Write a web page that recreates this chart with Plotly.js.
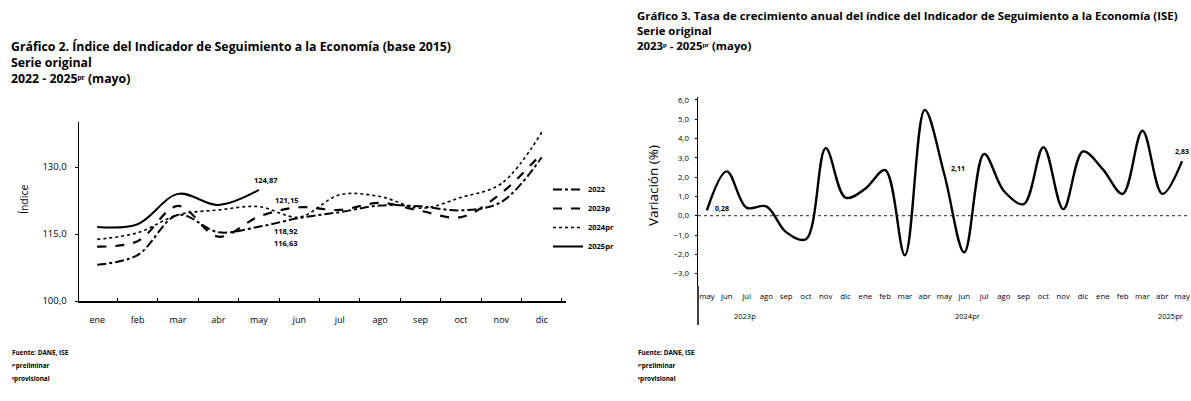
<!DOCTYPE html>
<html>
<head>
<meta charset="utf-8">
<script src="https://cdn.plot.ly/plotly-3.0.1.min.js"></script>
<style>html,body{margin:0;padding:0;background:#fff;}#chart{width:1191px;height:401px;}</style>
</head>
<body>
<div id="chart"></div>
<script>
// ---------- Data: Gráfico 2 ----------
const months = ['ene','feb','mar','abr','may','jun','jul','ago','sep','oct','nov','dic'];
const seriesNames = ['2022','2023p','2024pr','2025pr'];
const ise2022   = [108.1, 110.3, 119.3, 115.4, 116.63, 118.6, 119.9, 121.4, 121.2, 120.3, 122.2, 132.2];
const ise2023p  = [112.2, 113.4, 121.3, 114.4, 118.92, 121.0, 120.4, 122.0, 120.2, 118.8, 124.2, 133.1];
const ise2024pr = [113.8, 115.3, 119.3, 120.4, 121.15, 118.8, 123.8, 123.4, 120.8, 123.2, 126.3, 137.8];
const ise2025pr = [116.6, 117.2, 124.0, 121.5, 124.87];

// ---------- Data: Gráfico 3 ----------
const growthMonths = ['may','jun','jul','ago','sep','oct','nov','dic','ene','feb','mar','abr',
                      'may','jun','jul','ago','sep','oct','nov','dic','ene','feb','mar','abr','may'];
const growthValues = [0.28, 2.30, 0.42, 0.48, -0.85, -1.22, 3.50, 0.94, 1.40, 2.36, -2.05, 5.48,
                      2.11, -1.90, 3.20, 1.28, 0.60, 3.55, 0.34, 3.33, 2.40, 1.13, 4.40, 1.13, 2.83];
const yearLabels = ['2023p','2024pr','2025pr'];
const labelledIdx = [0, 12, 24];

const W = 1191, H = 401;
const px = v => v / W;
const py = v => 1 - v / H;
const fmt = v => v.toFixed(2).replace('.', ',');
const FONT = 'Open Sans';

const lineStyles = [
  {dash:'dashdot', width:2},
  {dash:'dash', width:2.2},
  {dash:'dot', width:1.6},
  {dash:'solid', width:2}
];
const allSeries = [ise2022, ise2023p, ise2024pr, ise2025pr];

const traces = allSeries.map((vals, i) => ({
  type:'scatter', mode:'lines',
  x: months.slice(0, vals.length), y: vals,
  name: seriesNames[i],
  line:{color:'#000', width:lineStyles[i].width, dash:lineStyles[i].dash, shape:'spline', smoothing:1},
  xaxis:'x', yaxis:'y', hoverinfo:'skip'
}));

traces.push({
  type:'scatter', mode:'lines',
  x: growthValues.map((_, i) => i), y: growthValues,
  line:{color:'#000', width:2.4, shape:'spline', smoothing:1},
  xaxis:'x2', yaxis:'y2', showlegend:false, hoverinfo:'skip'
});

// value labels chart 2 (at "may")
const mayShifts = [[27,-16],[27,-14],[28,7],[7,10]];
const ann = [];
allSeries.forEach((vals, i) => {
  ann.push({xref:'x', yref:'y', x:'may', y:vals[4], text:'<b>'+fmt(vals[4])+'</b>', showarrow:false,
    xshift:mayShifts[i][0], yshift:mayShifts[i][1], font:{size:7.5, family:FONT, color:'#000'}});
});
// value labels chart 3
const g3Shifts = [[15,2],[14,6],[0,10]];
labelledIdx.forEach((k, j) => {
  ann.push({xref:'x2', yref:'y2', x:k, y:growthValues[k], text:'<b>'+fmt(growthValues[k])+'</b>', showarrow:false,
    xshift:g3Shifts[j][0], yshift:g3Shifts[j][1], font:{size:7, family:FONT, color:'#000'}});
});

function txt(x, y, text, size, extra) {
  return Object.assign({xref:'paper', yref:'paper', x:px(x), y:py(y), text:text, showarrow:false,
    xanchor:'left', yanchor:'middle', font:{size:size, family:FONT, color:'#000'}}, extra || {});
}
// titles (one block each)
ann.push(txt(9, 62, '<b>Gráfico 2. Índice del Indicador de Seguimiento a la Economía (base 2015)<br>Serie original<br>2022 - 2025ᵖʳ (mayo)</b>', 12.3, {align:'left'}));
ann.push(txt(635, 30, '<b>Gráfico 3. Tasa de crecimiento anual del índice del Indicador de Seguimiento a la Economía (ISE)<br>Serie original<br>2023ᵖ - 2025ᵖʳ (mayo)</b>', 11.4, {align:'left'}));
// axis titles
ann.push(txt(24, 200, 'Índice', 10.5, {xanchor:'center', textangle:-90}));
ann.push(txt(653, 186, 'Variación (%)', 13.5, {xanchor:'center', textangle:-90}));
// year labels
ann.push(txt(745, 316, yearLabels[0], 7.5, {xanchor:'center'}));
ann.push(txt(967, 316, yearLabels[1], 7.5, {xanchor:'center'}));
ann.push(txt(1170, 316, yearLabels[2], 7.5, {xanchor:'center'}));
// footnotes
ann.push(txt(10, 352, '<b>Fuente: DANE, ISE</b>', 6.4));
ann.push(txt(10, 365, '<b>ᵖʳpreliminar</b>', 6.4));
ann.push(txt(10, 378, '<b>ᵖprovisional</b>', 6.4));
ann.push(txt(636, 352, '<b>Fuente: DANE, ISE</b>', 6.4));
ann.push(txt(636, 365, '<b>ᵖʳpreliminar</b>', 6.4));
ann.push(txt(636, 378, '<b>ᵖprovisional</b>', 6.4));

const layout = {
  width:W, height:H, margin:{l:0,r:0,t:0,b:0},
  paper_bgcolor:'#fff', plot_bgcolor:'rgba(0,0,0,0)',
  separators:',.',
  font:{family:FONT, color:'#000'},
  showlegend:true,
  legend:{x:px(548), y:py(175), xanchor:'left', yanchor:'top', bgcolor:'rgba(0,0,0,0)',
    font:{size:7.5, family:FONT, color:'#000', weight:'bold'}, tracegroupgap:0},
  xaxis:{domain:[px(79), px(566)], type:'category', range:[-0.45, 11.6], showline:true, linecolor:'#000', linewidth:1.5,
    ticks:'inside', tickson:'boundaries', ticklen:3, tickcolor:'#000', ticklabelstandoff:10,
    tickfont:{size:9, family:FONT}, showgrid:false, zeroline:false, fixedrange:true},
  yaxis:{domain:[py(301), py(122)], range:[100, 140.1], tickvals:[100,115,130], tickformat:'.1f',
    showline:true, linecolor:'#000', linewidth:1.5, ticks:'outside', ticklen:3, tickcolor:'#000', ticklabelstandoff:6,
    tickfont:{size:9.5, family:FONT}, showgrid:false, zeroline:false, fixedrange:true},
  xaxis2:{domain:[px(698), px(1188)], anchor:'y2', range:[-0.45, 24.3],
    tickvals: growthMonths.map((_, i) => i), ticktext: growthMonths, tickangle:0, ticklabelstandoff:4,
    showline:false, ticks:'', tickfont:{size:7.8, family:FONT}, showgrid:false, zeroline:false, fixedrange:true},
  yaxis2:{domain:[py(286), py(97)], anchor:'x2', range:[-3.64, 6.15], dtick:1, tick0:0, tickformat:'.1f',
    showline:true, linecolor:'#000', linewidth:1.5, ticks:'outside', ticklen:2, tickcolor:'#000', ticklabelstandoff:4,
    tickfont:{size:7.8, family:FONT}, showgrid:false, zeroline:false, fixedrange:true},
  shapes:[
    {type:'line', xref:'paper', yref:'y2', x0:px(698), x1:px(1188), y0:0, y1:0, line:{color:'#222', width:1, dash:'dot'}},
    {type:'line', xref:'paper', yref:'paper', x0:px(698), x1:px(698), y0:py(325), y1:py(286), line:{color:'#000', width:1.5}}
  ],
  annotations: ann
};

Plotly.newPlot('chart', traces, layout, {staticPlot:true, displayModeBar:false});
</script>
</body>
</html>
